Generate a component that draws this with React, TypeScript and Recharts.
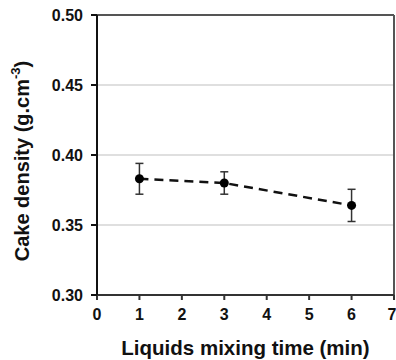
import { LineChart, Line, XAxis, YAxis, CartesianGrid, ErrorBar, ReferenceLine, Label } from 'recharts';

// mixing time (min) and measured cake density (g.cm-3)
const mixingTime = [1, 3, 6];
const cakeDensity = [0.383, 0.38, 0.364];
const densityError = [0.011, 0.008, 0.0115];

const xTicks = [0, 1, 2, 3, 4, 5, 6, 7];
const yTicks = [0.3, 0.35, 0.4, 0.45, 0.5];

const data = mixingTime.map((t, i) => ({ time: t, density: cakeDensity[i], err: densityError[i] }));

const FONT = '"Liberation Sans", Arial, Helvetica, sans-serif';

const YTitle = (props: any) => {
  const vb = props.viewBox || { x: 0, y: 0, width: 0, height: 0 };
  const cx = 22;
  const cy = vb.y + vb.height / 2 + 6;
  return (
    <text
      x={cx}
      y={cy}
      transform={`rotate(-90 ${cx} ${cy})`}
      textAnchor="middle"
      dominantBaseline="central"
      fontFamily={FONT}
      fontWeight="bold"
      fontSize={20}
      fill="#111"
    >
      Cake density (g.cm
      <tspan dy={-7} fontSize={13}>-3</tspan>
      <tspan dy={7}>)</tspan>
    </text>
  );
};

const App = () => {
  return (
    <div style={{ position: 'absolute', left: 0, top: 0, background: '#fff' }}>
      <LineChart width={396} height={360} data={data} margin={{ top: 15, right: 2, left: 0, bottom: 0 }}>
        <CartesianGrid vertical={false} stroke="#d4d4d4" strokeWidth={1.5} />
        <XAxis
          type="number"
          dataKey="time"
          domain={[0, 7]}
          ticks={xTicks}
          height={65}
          tickSize={5}
          tickMargin={9}
          stroke="#333"
          strokeWidth={2}
          tick={{ fill: '#111', fontSize: 16, fontWeight: 'bold', fontFamily: FONT }}
        >
          <Label
            value="Liquids mixing time (min)"
            position="insideBottom"
            offset={5}
            style={{ fill: '#111', fontSize: 20.5, fontWeight: 'bold', fontFamily: FONT }}
          />
        </XAxis>
        <YAxis
          type="number"
          domain={[0.3, 0.5]}
          ticks={yTicks}
          width={97}
          tickSize={6}
          tickMargin={8}
          stroke="#111"
          strokeWidth={2}
          tickFormatter={(v: number) => v.toFixed(2)}
          tick={{ fill: '#111', fontSize: 16, fontWeight: 'bold', fontFamily: FONT }}
        >
          <Label content={YTitle} />
        </YAxis>
        <ReferenceLine y={0.5} stroke="#555" strokeWidth={2} />
        <ReferenceLine x={7} stroke="#555" strokeWidth={2} />
        <Line
          type="linear"
          dataKey="density"
          stroke="#111"
          strokeWidth={2.5}
          strokeDasharray="9 6"
          dot={{ r: 4.5, fill: '#000', stroke: '#000', strokeWidth: 0 }}
          isAnimationActive={false}
        >
          <ErrorBar dataKey="err" direction="y" width={4} stroke="#333" strokeWidth={1.5} />
        </Line>
      </LineChart>
    </div>
  );
};

export default App;
